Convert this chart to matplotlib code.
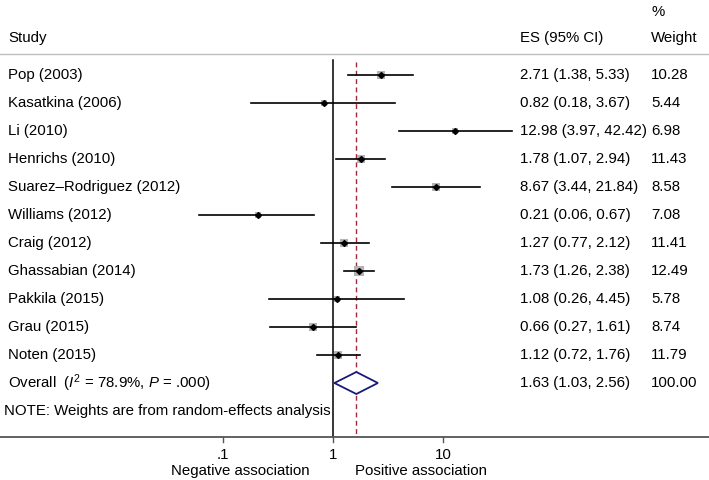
import numpy as np
import matplotlib
matplotlib.use("Agg")
import matplotlib.pyplot as plt
import matplotlib.transforms as mtransforms

plt.rcParams['font.family'] = ['Liberation Sans', 'DejaVu Sans']
plt.rcParams['mathtext.fontset'] = 'custom'
plt.rcParams['mathtext.rm'] = 'Liberation Sans'
plt.rcParams['mathtext.it'] = 'Liberation Sans:italic'

studies = ["Pop (2003)", "Kasatkina (2006)", "Li (2010)", "Henrichs (2010)",
           "Suarez\u2013Rodriguez (2012)", "Williams (2012)", "Craig (2012)",
           "Ghassabian (2014)", "Pakkila (2015)", "Grau (2015)", "Noten (2015)"]
es = [2.71, 0.82, 12.98, 1.78, 8.67, 0.21, 1.27, 1.73, 1.08, 0.66, 1.12]
lo = [1.38, 0.18, 3.97, 1.07, 3.44, 0.06, 0.77, 1.26, 0.26, 0.27, 0.72]
hi = [5.33, 3.67, 42.42, 2.94, 21.84, 0.67, 2.12, 2.38, 4.45, 1.61, 1.76]
weights = [10.28, 5.44, 6.98, 11.43, 8.58, 7.08, 11.41, 12.49, 5.78, 8.74, 11.79]
es_labels = ["2.71 (1.38, 5.33)", "0.82 (0.18, 3.67)", "12.98 (3.97, 42.42)",
             "1.78 (1.07, 2.94)", "8.67 (3.44, 21.84)", "0.21 (0.06, 0.67)",
             "1.27 (0.77, 2.12)", "1.73 (1.26, 2.38)", "1.08 (0.26, 4.45)",
             "0.66 (0.27, 1.61)", "1.12 (0.72, 1.76)"]
weight_labels = ["10.28", "5.44", "6.98", "11.43", "8.58", "7.08", "11.41",
                 "12.49", "5.78", "8.74", "11.79"]
overall_es, overall_lo, overall_hi = 1.63, 1.03, 2.56
overall_label = "Overall  ($I^2$ = 78.9%, $P$ = .000)"
overall_es_label = "1.63 (1.03, 2.56)"
overall_weight_label = "100.00"
tick_vals = [0.1, 1, 10]
tick_labels = [".1", "1", "10"]

W, H = 709, 480
fig = plt.figure(figsize=(W / 100, H / 100), dpi=100)
ax = fig.add_axes([0, 0, 1, 1])
ax.set_xscale('log')
x0_px, decade_px = 333, 110
ax.set_xlim(10 ** (-x0_px / decade_px), 10 ** ((W - x0_px) / decade_px))
ax.set_ylim(H, 0)
ax.axis('off')

bt = mtransforms.blended_transform_factory(ax.transAxes, ax.transData)
fs = 10.8
row0, dy = 75, 28.0
rows = [row0 + dy * i for i in range(len(studies))]
y_over = row0 + dy * len(studies)
y_note = y_over + dy
y_axis = 437

# headers
ax.text(8 / W, 38, "Study", transform=bt, fontsize=fs, va='center', ha='left')
ax.text(520 / W, 38, "ES (95% CI)", transform=bt, fontsize=fs, va='center', ha='left')
ax.text(651 / W, 38, "Weight", transform=bt, fontsize=fs, va='center', ha='left')
ax.text(651 / W, 12, "%", transform=bt, fontsize=fs, va='center', ha='left')
ax.plot([0, 1], [54, 54], transform=bt, color='#bdbdbd', lw=1.0, clip_on=False)

# reference lines
ax.plot([1, 1], [60, y_axis], color='black', lw=1.1)
ax.plot([overall_es, overall_es], [62, y_axis], color='#a0283a', lw=1.0,
        dashes=(3.5, 2.5))

# studies
for i, y in enumerate(rows):
    side_pt = 2.6 * np.sqrt(weights[i]) * 0.72
    ax.scatter([es[i]], [y], marker='s', s=side_pt ** 2, color='#b3b3b3',
               zorder=2, linewidths=0)
    ax.plot([lo[i], hi[i]], [y, y], color='black', lw=1.2, zorder=3)
    ax.plot([es[i]], [y], marker='D', ms=3.0, color='black', zorder=4)
    ax.text(8 / W, y, studies[i], transform=bt, fontsize=fs, va='center', ha='left')
    ax.text(520 / W, y, es_labels[i], transform=bt, fontsize=fs, va='center', ha='left')
    ax.text(651 / W, y, weight_labels[i], transform=bt, fontsize=fs, va='center', ha='left')

# overall diamond
half = 11
ax.fill([overall_lo, overall_es, overall_hi, overall_es, overall_lo],
        [y_over, y_over - half, y_over, y_over + half, y_over],
        facecolor='white', edgecolor='#1a1a7a', lw=1.3, zorder=5)
ax.text(8 / W, y_over, overall_label, transform=bt, fontsize=fs, va='center', ha='left')
ax.text(520 / W, y_over, overall_es_label, transform=bt, fontsize=fs, va='center', ha='left')
ax.text(651 / W, y_over, overall_weight_label, transform=bt, fontsize=fs, va='center', ha='left')

ax.text(4 / W, y_note, "NOTE: Weights are from random-effects analysis", transform=bt,
        fontsize=fs, va='center', ha='left')

# x axis
ax.plot([0, 1], [y_axis, y_axis], transform=bt, color='#555555', lw=1.3, clip_on=False)
for v, lab in zip(tick_vals, tick_labels):
    ax.plot([v, v], [y_axis, y_axis + 5], color='#555555', lw=1.0)
    ax.text(v, 455, lab, fontsize=fs, ha='center', va='center')
ax.text(10 ** ((310 - x0_px) / decade_px), 471, "Negative association", fontsize=fs,
        ha='right', va='center')
ax.text(10 ** ((355 - x0_px) / decade_px), 471, "Positive association", fontsize=fs,
        ha='left', va='center')

fig.savefig("out.png", dpi=100)
